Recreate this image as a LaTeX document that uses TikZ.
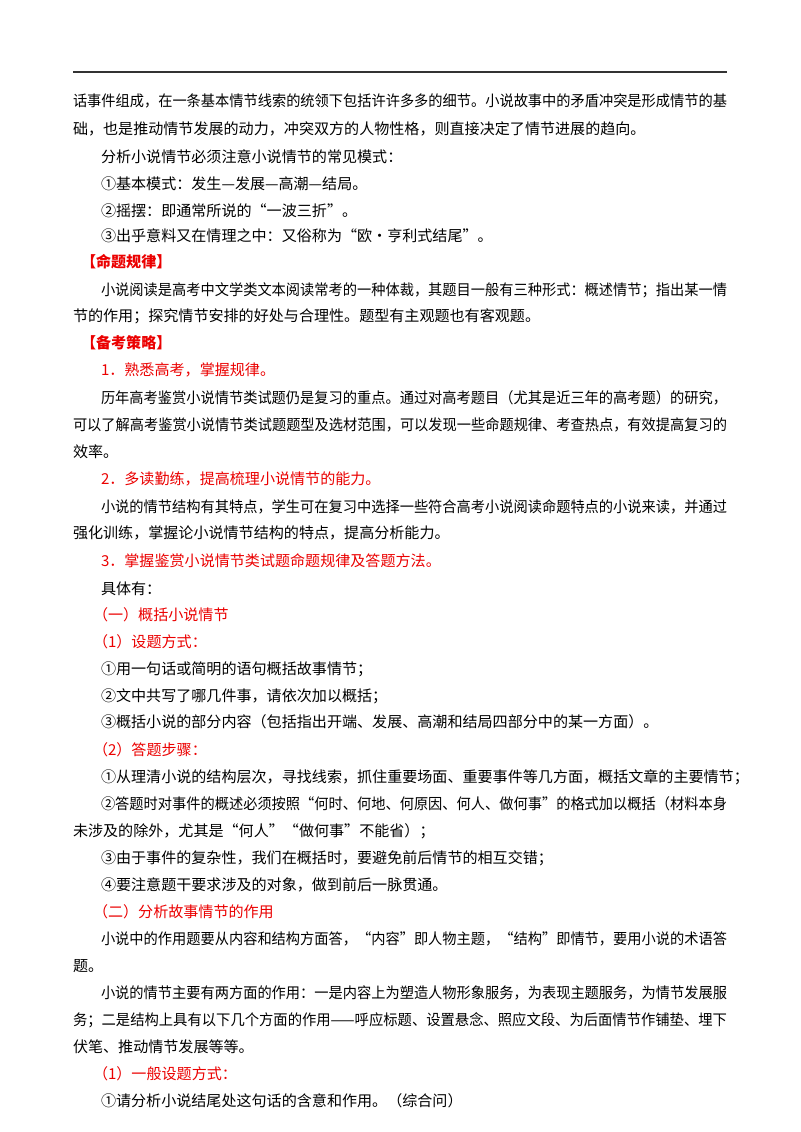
\documentclass[tikz,border=0pt]{standalone}
\usepackage{fontspec}
\usepackage{graphicx}
\setmainfont{Noto Sans CJK SC}
\definecolor{hred}{RGB}{235,0,0}
\newcommand{\fullln}[1]{\resizebox{490.5pt}{\height}{#1}}
\newcommand{\fullin}[1]{\resizebox{469.5pt}{\height}{#1}}
\begin{document}
\begin{tikzpicture}[x=0.75pt,y=-0.75pt,
  every node/.style={inner sep=0pt,outer sep=0pt,font=\fontsize{11.3pt}{13pt}\selectfont},
  ln/.style={anchor=west},
  ind/.style={anchor=west,xshift=21pt},
  red/.style={text=hred},
  bred/.style={text=hred,font=\fontsize{11.3pt}{13pt}\selectfont\bfseries}]
\useasboundingbox[fill=white] (0,0) rectangle (800,1132);
\draw[line width=0.9pt,black!80] (73,72) coordinate (r1) -- (727,72) coordinate (r2);
\node[ln] (l1) at (73,101) {\fullln{话事件组成，在一条基本情节线索的统领下包括许许多多的细节。小说故事中的矛盾冲突是形成情节的基}};
\node[ln] (l2) at (73,129) {础，也是推动情节发展的动力，冲突双方的人物性格，则直接决定了情节进展的趋向。};
\node[ind] (l3) at (73,157) {分析小说情节必须注意小说情节的常见模式：};
\node[ind] (l4) at (73,184) {①基本模式：发生—发展—高潮—结局。};
\node[ind] (l5) at (73,211) {②摇摆：即通常所说的“一波三折”。};
\node[ind] (l6) at (73,236) {③出乎意料又在情理之中：又俗称为“欧·亨利式结尾”。};
\node[ind,bred,xshift=-15pt] (l7) at (73,262) {【命题规律】};
\node[ind] (l8) at (73,290) {\fullin{小说阅读是高考中文学类文本阅读常考的一种体裁，其题目一般有三种形式：概述情节；指出某一情}};
\node[ln] (l9) at (73,316) {节的作用；探究情节安排的好处与合理性。题型有主观题也有客观题。};
\node[ind,bred,xshift=-15pt] (l10) at (73,343) {【备考策略】};
\node[ind,red] (l11) at (73,370) {1．熟悉高考，掌握规律。};
\node[ind] (l12) at (73,398) {\fullin{历年高考鉴赏小说情节类试题仍是复习的重点。通过对高考题目（尤其是近三年的高考题）的研究，}};
\node[ln] (l13) at (73,425) {\fullln{可以了解高考鉴赏小说情节类试题题型及选材范围，可以发现一些命题规律、考查热点，有效提高复习的}};
\node[ln] (l14) at (73,452) {效率。};
\node[ind,red] (l15) at (73,479) {2．多读勤练，提高梳理小说情节的能力。};
\node[ind] (l16) at (73,507) {\fullin{小说的情节结构有其特点，学生可在复习中选择一些符合高考小说阅读命题特点的小说来读，并通过}};
\node[ln] (l17) at (73,533) {强化训练，掌握论小说情节结构的特点，提高分析能力。};
\node[ind,red] (l18) at (73,561) {3．掌握鉴赏小说情节类试题命题规律及答题方法。};
\node[ind] (l19) at (73,589) {具体有：};
\node[ind,red,xshift=-6pt] (l20) at (73,615) {（一）概括小说情节};
\node[ind,red,xshift=-6pt] (l21) at (73,642) {（1）设题方式：};
\node[ind] (l22) at (73,669) {①用一句话或简明的语句概括故事情节；};
\node[ind] (l23) at (73,696) {②文中共写了哪几件事，请依次加以概括；};
\node[ind] (l24) at (73,722) {③概括小说的部分内容（包括指出开端、发展、高潮和结局四部分中的某一方面）。};
\node[ind,red,xshift=-6pt] (l25) at (73,750) {（2）答题步骤：};
\node[ind] (l26) at (73,777) {①从理清小说的结构层次，寻找线索，抓住重要场面、重要事件等几方面，概括文章的主要情节；};
\node[ind] (l27) at (73,804) {\fullin{②答题时对事件的概述必须按照“何时、何地、何原因、何人、做何事”的格式加以概括（材料本身}};
\node[ln] (l28) at (73,831) {未涉及的除外，尤其是“何人”“做何事”不能省）；};
\node[ind] (l29) at (73,858) {③由于事件的复杂性，我们在概括时，要避免前后情节的相互交错；};
\node[ind] (l30) at (73,885) {④要注意题干要求涉及的对象，做到前后一脉贯通。};
\node[ind,red,xshift=-6pt] (l31) at (73,912) {（二）分析故事情节的作用};
\node[ind] (l32) at (73,939) {\fullin{小说中的作用题要从内容和结构方面答，“内容”即人物主题，“结构”即情节，要用小说的术语答}};
\node[ln] (l33) at (73,966) {题。};
\node[ind] (l34) at (73,993) {\fullin{小说的情节主要有两方面的作用：一是内容上为塑造人物形象服务，为表现主题服务，为情节发展服}};
\node[ln] (l35) at (73,1020) {\fullln{务；二是结构上具有以下几个方面的作用——呼应标题、设置悬念、照应文段、为后面情节作铺垫、埋下}};
\node[ln] (l36) at (73,1047) {伏笔、推动情节发展等等。};
\node[ind,red,xshift=-6pt] (l37) at (73,1074) {（1）一般设题方式：};
\node[ind] (l38) at (73,1101) {①请分析小说结尾处这句话的含意和作用。（综合问）};
\end{tikzpicture}
\end{document}
